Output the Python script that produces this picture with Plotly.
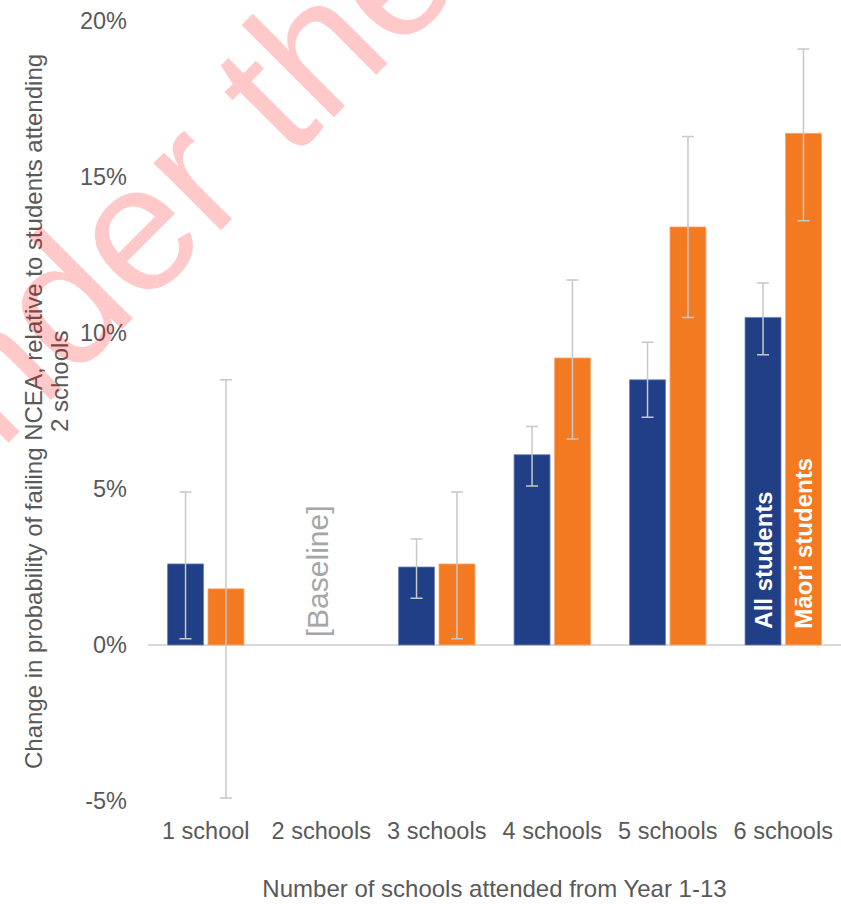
import plotly.graph_objects as go

# Number of schools attended (Year 1-13)
categories = ["1 school", "2 schools", "3 schools", "4 schools", "5 schools", "6 schools"]

# Change in probability of failing NCEA (%), relative to attending 2 schools
all_values = [2.6, None, 2.5, 6.1, 8.5, 10.5]
all_lower = [0.2, None, 1.5, 5.1, 7.3, 9.3]
all_upper = [4.9, None, 3.4, 7.0, 9.7, 11.6]

maori_values = [1.8, None, 2.6, 9.2, 13.4, 16.4]
maori_lower = [-4.9, None, 0.2, 6.6, 10.5, 13.6]
maori_upper = [8.5, None, 4.9, 11.7, 16.3, 19.1]

# Series names, shown inside the last pair of bars
all_label = ["", "", "", "", "", "All students"]
maori_label = ["", "", "", "", "", "Māori students"]

y_ticks = [-5, 0, 5, 10, 15, 20]

FONT = "Liberation Sans, Arial, sans-serif"
GREY_TEXT = "#595959"
BLUE = "#203f86"
ORANGE = "#f47a22"
ERR = "#c8c8c8"
NBSP = "\u00a0"


def plus(v, hi):
    return [None if a is None else b - a for a, b in zip(v, hi)]


def minus(v, lo):
    return [None if a is None else a - b for a, b in zip(v, lo)]


def padded(labels):
    # a little breathing room between the bar base and its label
    return [NBSP * 2 + s if s else s for s in labels]


fig = go.Figure()

fig.add_trace(go.Bar(
    x=categories, y=all_values, name="All students",
    marker=dict(color=BLUE, line=dict(color="#6f83b6", width=0.8)),
    error_y=dict(type="data", symmetric=False,
                 array=plus(all_values, all_upper),
                 arrayminus=minus(all_values, all_lower),
                 color=ERR, thickness=1.5, width=6),
    text=padded(all_label), textposition="inside", insidetextanchor="start",
    textangle=-90,
    insidetextfont=dict(family=FONT, size=24, color="white", weight="bold"),
    cliponaxis=False,
))

fig.add_trace(go.Bar(
    x=categories, y=maori_values, name="Māori students",
    marker=dict(color=ORANGE, line=dict(color="#f8ab74", width=0.8)),
    error_y=dict(type="data", symmetric=False,
                 array=plus(maori_values, maori_upper),
                 arrayminus=minus(maori_values, maori_lower),
                 color=ERR, thickness=1.5, width=6),
    text=padded(maori_label), textposition="inside", insidetextanchor="start",
    textangle=-90,
    insidetextfont=dict(family=FONT, size=24, color="white", weight="bold"),
    cliponaxis=False,
))

PLOT_L, PLOT_R, PLOT_T, PLOT_B = 148, 841, 21, 801
W, H = 841, 904


def px_x(p):
    return (p - PLOT_L) / (PLOT_R - PLOT_L)


def px_y(p):
    return (PLOT_B - p) / (PLOT_B - PLOT_T)


title_font = dict(family=FONT, size=24, color=GREY_TEXT)

annotations = [
    # marker for the reference group
    dict(x="2 schools", y=0, xref="x", yref="y", text="[Baseline]",
         textangle=-90, showarrow=False, xanchor="center", yanchor="bottom",
         xshift=-4, yshift=6, font=dict(family=FONT, size=30, color="#a6a6a6")),
    # y-axis title, two lines
    dict(x=px_x(33), y=px_y(412), xref="paper", yref="paper",
         text="Change in probability of failing NCEA, relative to students attending",
         textangle=-90, showarrow=False, xanchor="center", yanchor="middle",
         font=title_font),
    dict(x=px_x(59), y=px_y(382), xref="paper", yref="paper",
         text="2 schools",
         textangle=-90, showarrow=False, xanchor="center", yanchor="middle",
         font=title_font),
    # diagonal watermark
    dict(x=px_x(153), y=px_y(209), xref="paper", yref="paper",
         text="under the", textangle=-45, showarrow=False,
         xanchor="center", yanchor="middle",
         font=dict(family=FONT, size=180, color="rgba(255,0,0,0.21)")),
]

fig.update_layout(
    width=W, height=H,
    margin=dict(l=PLOT_L, r=W - PLOT_R, t=PLOT_T, b=H - PLOT_B, pad=0),
    paper_bgcolor="white", plot_bgcolor="white",
    barmode="group", bargap=0.3, bargroupgap=0.11,
    showlegend=False,
    font=dict(family=FONT, color=GREY_TEXT),
    annotations=annotations,
    xaxis=dict(
        type="category", categoryorder="array", categoryarray=categories,
        showgrid=False, showline=False, ticks="", zeroline=False,
        tickfont=dict(family=FONT, size=23.5, color=GREY_TEXT),
        ticklabelstandoff=13,
        title=dict(text="Number of schools attended from Year 1-13",
                   font=title_font, standoff=37),
        automargin=False,
    ),
    yaxis=dict(
        range=[-5, 20], tickvals=y_ticks,
        ticktext=[f"{v}%" for v in y_ticks],
        showgrid=False, showline=False, ticks="",
        zeroline=True, zerolinecolor="#d9d9d9", zerolinewidth=1.5,
        tickfont=dict(family=FONT, size=23.5, color=GREY_TEXT),
        ticklabelstandoff=20,
        automargin=False,
    ),
)

fig.write_html("out.html")
